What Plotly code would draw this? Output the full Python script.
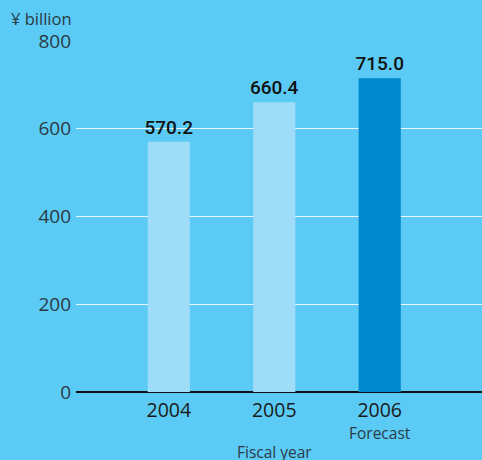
import plotly.graph_objects as go

years = ["2004", "2005", "2006"]
values = [570.2, 660.4, 715.0]
labels = ["570.2", "660.4", "715.0"]
bar_colors = ["#9FDCF8", "#9FDCF8", "#0088CE"]
y_ticks = [0, 200, 400, 600, 800]

bg = "#5BCBF5"
font = "Open Sans"

x = list(range(len(years)))
fig = go.Figure()
fig.add_trace(go.Bar(
    x=x, y=values, width=0.4, marker=dict(color=bar_colors, line=dict(width=0)),
    text=labels, textposition="outside", cliponaxis=False, constraintext="none",
    textfont=dict(family="Roboto", size=19, color="#111111", weight=500),
))

PW, PH = 406, 351
fig.update_layout(
    width=482, height=460,
    paper_bgcolor=bg, plot_bgcolor=bg,
    margin=dict(l=76, r=0, t=41, b=68),
    showlegend=False,
    font=dict(family=font, color="#2a3a44", size=17),
    xaxis=dict(range=[-0.88, 2.97], tickvals=x, ticktext=years, showgrid=False,
               zeroline=False, showline=False, ticks="", ticklabelstandoff=4,
               tickfont=dict(size=19.5, color="#1a1a1a")),
    yaxis=dict(range=[0, 800], tickvals=y_ticks, showgrid=True, gridcolor="#EAF7FD",
               gridwidth=1, zeroline=True, zerolinecolor="#111111", zerolinewidth=1.5,
               ticks="", tickfont=dict(size=19, color="#2a3a44"), ticklabelstandoff=4),
    annotations=[
        dict(text="¥ billion", xref="paper", yref="paper", x=(9 - 76) / PW, y=1 + (41 - 19) / PH,
             showarrow=False, xanchor="left", yanchor="middle", font=dict(size=16.5, color="#2a3a44")),
        dict(text="Forecast", x=2, y=0, xref="x", yref="y", yshift=-41, showarrow=False,
             yanchor="middle", font=dict(size=15.5, color="#2a3a44")),
        dict(text="Fiscal year", x=1, y=0, xref="x", yref="y", yshift=-60, showarrow=False,
             yanchor="middle", font=dict(size=15.5, color="#2a3a44")),
    ],
)
fig.write_html("out.html", config={"displayModeBar": False},
               post_script="document.body.style.margin='0';document.body.style.overflow='hidden';")
